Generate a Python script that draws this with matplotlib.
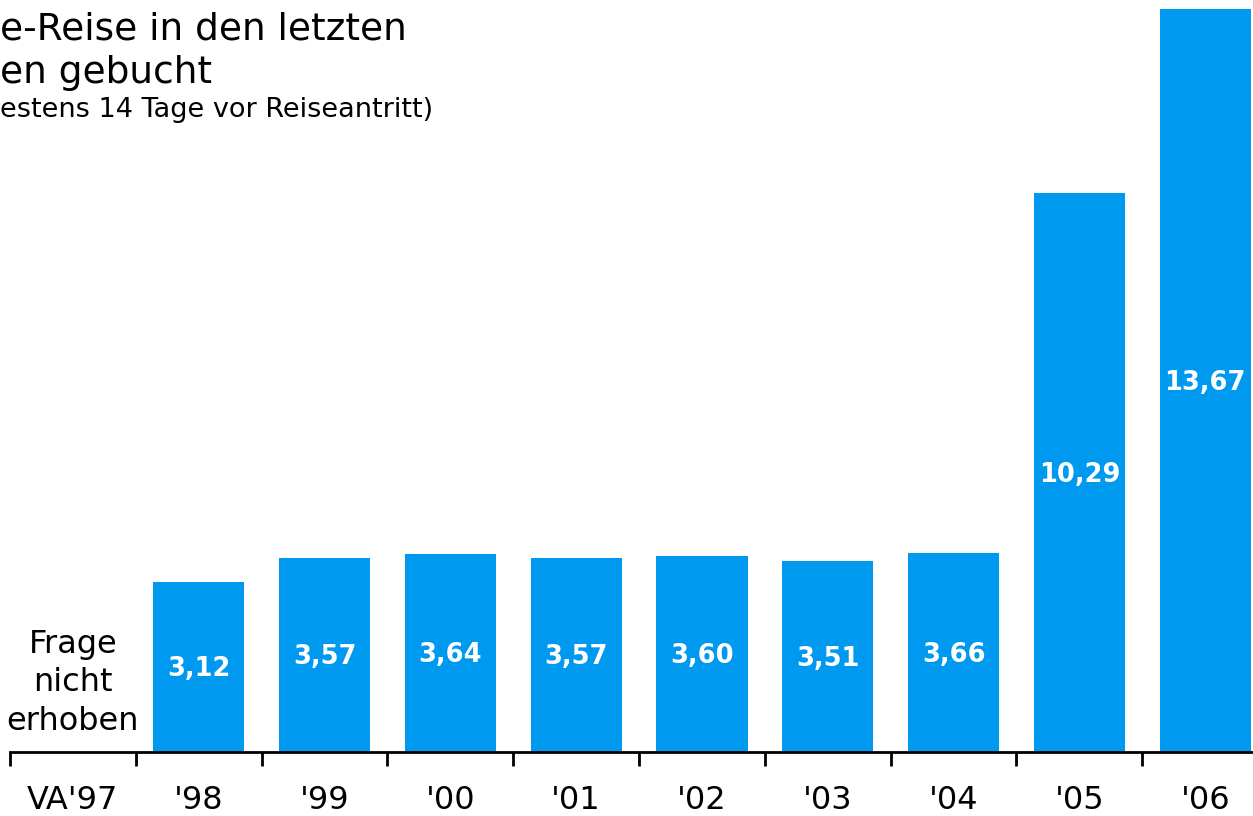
import numpy as np
import matplotlib.pyplot as plt

years = ["VA'97", "'98", "'99", "'00", "'01", "'02", "'03", "'04", "'05", "'06"]
values = [np.nan, 3.12, 3.57, 3.64, 3.57, 3.60, 3.51, 3.66, 10.29, 13.67]
labels = ["", "3,12", "3,57", "3,64", "3,57", "3,60", "3,51", "3,66", "10,29", "13,67"]

W, H = 1253, 816
fig = plt.figure(figsize=(W / 100, H / 100), dpi=100)
# axes: left edge at first tick (10px), baseline at y=752px
ax = fig.add_axes([10 / W, 64 / H, (W - 10) / W, 752 / H])

x = np.arange(len(years))
blue = "#0099f0"
ax.bar(x, values, width=0.725, color=blue)

for xi, v, lab in zip(x, values, labels):
    if np.isnan(v):
        continue
    ax.text(xi, v / 2 - 0.04, lab, ha="center", va="center", color="white",
            fontsize=18.5, fontweight="bold")

ax.text(0, 1.27, "Frage\nnicht\nerhoben", ha="center", va="center",
        fontsize=23, linespacing=1.3)

ax.set_xlim(-0.5, (W - 73) / 125.8)
ax.set_ylim(0, 752 / 54.35)

for s in ["top", "right", "left"]:
    ax.spines[s].set_visible(False)
ax.spines["bottom"].set_linewidth(2)
ax.set_yticks([])
ax.set_xticks(x - 0.5, minor=False)
ax.set_xticklabels([])
ax.tick_params(axis="x", length=10, width=2, direction="out")
ax.set_xticks(x, minor=True)
ax.set_xticklabels(years, minor=True, fontsize=23)
ax.tick_params(axis="x", which="minor", length=0, pad=24)

fig.text(0, 1 - 40 / H, "e-Reise in den letzten", fontsize=27, va="baseline")
fig.text(0, 1 - 83 / H, "en gebucht", fontsize=27, va="baseline")
fig.text(0, 1 - 117 / H, "estens 14 Tage vor Reiseantritt)", fontsize=19.5,
         va="baseline")

fig.savefig("out.png", dpi=100)
